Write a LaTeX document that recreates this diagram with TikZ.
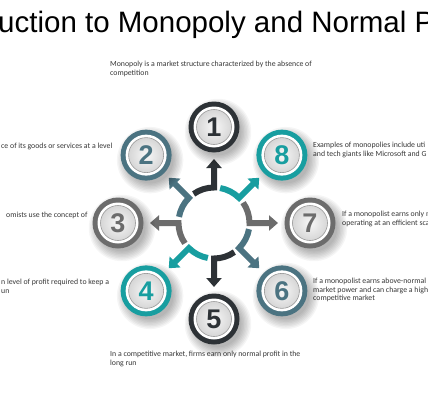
\documentclass[tikz,border=0pt]{standalone}
\usepackage{fontspec}
\setmainfont{Carlito}
\newfontfamily\titlefont{Liberation Sans}
\newfontfamily\numfont{Liberation Sans}
\usetikzlibrary{arrows.meta}
\definecolor{cdark}{RGB}{45,50,54}
\definecolor{cteal}{RGB}{24,158,160}
\definecolor{cslate}{RGB}{75,115,129}
\definecolor{cgray}{RGB}{108,108,108}
\definecolor{ctext}{RGB}{55,55,55}
\tikzset{
  desc/.style={anchor=north west, inner sep=0pt, align=left, text=ctext,
    font=\fontsize{7.8}{8.5}\selectfont},
  num/.style={inner sep=0pt, font=\numfont\bfseries\fontsize{27}{27}\selectfont},
  seg/.style={line width=6pt, -{Triangle[width=15pt,length=9pt]}}
}
\begin{document}
\begin{tikzpicture}[x=1pt,y=1pt]
\useasboundingbox (0,0) rectangle (428,400);
\clip (0,0) rectangle (428,400);
\fill[white] (0,0) rectangle (428,400);

\node[anchor=base west, inner sep=0pt, font=\titlefont\fontsize{29.5}{30}\selectfont] (title) at (-2,367) {uction to Monopoly and Normal P};

\node[desc] (t1) at (110,339) {Monopoly is a market structure characterized by the absence of\\competition};
\node[desc] (t2) at (1,257) {ce of its goods or services at a level};
\node[desc] (t3) at (6,188) {omists use the concept of};
\node[desc] (t4) at (1,121) {n level of profit required to keep a\\un};
\node[desc] (t8) at (313,258) {Examples of monopolies include uti\\and tech giants like Microsoft and G};
\node[desc] (t7) at (342,189) {If a monopolist earns only n\\operating at an efficient sca};
\node[desc] (t6) at (313,122) {If a monopolist earns above-normal\\market power and can charge a high\\competitive market};
\node[desc] (t5) at (110,49) {In a competitive market, firms earn only normal profit in the\\long run};

\begin{scope}[shift={(214,177)}]
  \coordinate (O) at (0,0);
  \foreach \a/\c in {90/cdark,45/cteal,0/cgray,-45/cslate,-90/cdark,-135/cteal,180/cgray,135/cslate}{
    \draw[seg,\c] (\a+35:35.5) arc[start angle=\a+35, end angle=\a, radius=35.5] -- (\a:64);
  }
  \foreach \a/\n/\c in {90/1/cdark,135/2/cslate,180/3/cgray,225/4/cteal,270/5/cdark,315/6/cslate,0/7/cgray,45/8/cteal}{
    \coordinate (p\n) at (\a:96);
    \foreach \i in {1,...,8}{
      \fill[black,opacity=0.04] ([shift={(4,-5)}]p\n) circle ({22+\i*1.4});
    }
    \fill[\c] (p\n) circle (25.5);
    \fill[white] (p\n) circle (20.5);
    \shade[inner color=black!3, outer color=black!16] (p\n) circle (17.5);
    \draw[black!40, line width=0.6pt] (p\n) circle (17.5);
    \node[num,text=\c] (n\n) at (p\n) {\n};
  }
\end{scope}
\end{tikzpicture}
\end{document}
